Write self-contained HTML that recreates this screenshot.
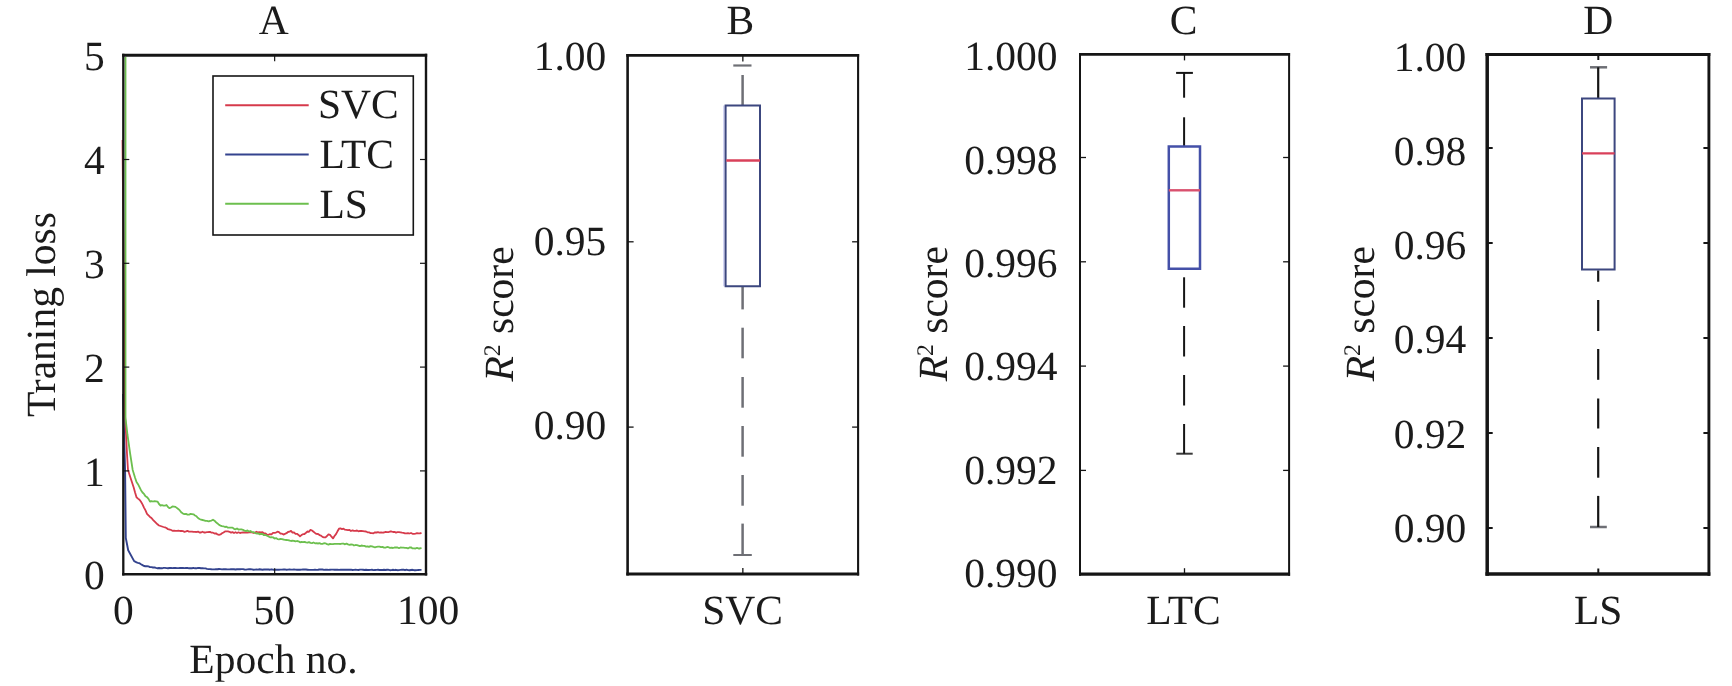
<!DOCTYPE html><html><head><meta charset="utf-8"><style>html,body{margin:0;padding:0;background:#fff;width:1732px;height:686px;overflow:hidden}svg{display:block}text{font-family:"Liberation Serif",serif;fill:#1b1b1b;text-rendering:geometricPrecision}svg{will-change:transform}</style></head><body>
<svg width="1732" height="686" viewBox="0 0 1732 686">
<rect width="1732" height="686" fill="#fff"/>
<polyline points="123.0,394.0 125.1,470.6 125.8,538.0 128.2,550.2 134.3,561.4 135.0,561.5 136.5,562.4 138.0,562.9 139.5,563.2 141.0,564.2 142.5,565.1 144.0,566.0 145.5,566.3 147.0,566.2 148.5,566.4 150.0,567.1 151.5,567.1 153.0,567.5 154.5,567.4 156.0,567.9 157.5,568.2 159.0,568.0 160.5,568.3 162.0,568.3 163.5,567.9 165.0,567.9 166.5,568.1 168.0,568.3 169.5,568.0 171.0,568.0 172.5,568.1 174.0,567.9 175.5,568.0 177.0,568.1 178.5,568.1 180.0,568.0 181.5,568.0 183.0,568.0 184.5,568.1 186.0,568.0 187.5,567.9 189.0,568.3 190.5,568.1 192.0,568.2 193.5,567.9 195.0,568.3 196.5,568.3 198.0,567.9 199.5,568.0 201.0,568.2 202.5,568.2 204.0,568.4 205.5,568.4 207.0,568.9 208.5,569.1 210.0,569.1 211.5,569.3 213.0,569.4 214.5,569.4 216.0,569.2 217.5,569.3 219.0,569.0 220.5,569.1 222.0,569.4 223.5,569.2 225.0,569.1 226.5,569.3 228.0,569.4 229.5,569.4 231.0,569.2 232.5,569.3 234.0,569.3 235.5,569.5 237.0,569.3 238.5,569.3 240.0,569.3 241.5,569.1 243.0,569.1 244.5,569.5 246.0,569.6 247.5,569.4 249.0,569.3 250.5,569.2 252.0,569.4 253.5,569.7 255.0,569.6 256.5,569.5 258.0,569.6 259.5,569.3 261.0,569.5 262.5,569.7 264.0,569.5 265.5,569.5 267.0,569.4 268.5,569.5 270.0,569.7 271.5,569.3 273.0,569.7 274.5,569.7 276.0,569.7 277.5,569.7 279.0,569.7 280.5,569.6 282.0,569.6 283.5,569.5 285.0,569.4 286.5,569.8 288.0,569.6 289.5,569.4 291.0,569.6 292.5,569.6 294.0,569.5 295.5,569.6 297.0,569.7 298.5,569.7 300.0,569.7 301.5,569.6 303.0,569.4 304.5,569.5 306.0,569.5 307.5,569.7 309.0,569.9 310.5,569.9 312.0,569.9 313.5,569.9 315.0,569.6 316.5,569.9 318.0,569.8 319.5,569.5 321.0,569.5 322.5,569.5 324.0,569.9 325.5,569.7 327.0,569.6 328.5,569.9 330.0,569.7 331.5,569.6 333.0,569.6 334.5,569.8 336.0,569.6 337.5,569.7 339.0,569.9 340.5,569.8 342.0,569.7 343.5,569.8 345.0,569.6 346.5,569.8 348.0,569.8 349.5,569.7 351.0,569.6 352.5,570.0 354.0,569.9 355.5,569.7 357.0,569.9 358.5,570.0 360.0,569.6 361.5,569.6 363.0,569.7 364.5,570.0 366.0,569.7 367.5,570.0 369.0,570.0 370.5,569.9 372.0,569.8 373.5,570.1 375.0,570.0 376.5,569.9 378.0,569.8 379.5,570.0 381.0,569.9 382.5,570.0 384.0,569.8 385.5,570.0 387.0,569.7 388.5,569.8 390.0,570.2 391.5,570.1 393.0,569.8 394.5,570.1 396.0,569.8 397.5,570.2 399.0,570.1 400.5,569.9 402.0,569.8 403.5,569.7 405.0,570.2 406.5,569.7 408.0,570.1 409.5,570.2 411.0,570.0 412.5,569.8 414.0,570.2 415.5,570.2 417.0,570.1 418.5,570.0 420.0,569.9 421.5,569.9" fill="none" stroke="#33438e" stroke-width="1.9" stroke-linejoin="round"/>
<polyline points="122.5,140.0 125.0,414.0 127.0,454.0 128.0,470.0 130.5,477.7 133.7,487.5 135.0,492.3 136.5,497.3 138.0,498.6 139.5,499.8 141.0,501.8 142.5,504.4 144.0,507.6 145.5,510.4 147.0,513.9 148.5,515.4 150.0,516.9 151.5,518.0 153.0,519.8 154.5,521.3 156.0,522.8 157.5,524.3 159.0,525.5 160.5,526.0 162.0,526.5 163.5,527.0 165.0,527.4 166.5,528.0 168.0,529.2 169.5,529.5 171.0,529.9 172.5,530.8 174.0,530.6 175.5,530.9 177.0,530.8 178.5,530.6 180.0,531.0 181.5,530.8 183.0,531.2 184.5,531.8 186.0,531.4 187.5,530.8 189.0,531.7 190.5,531.6 192.0,531.6 193.5,531.9 195.0,531.9 196.5,532.0 198.0,531.6 199.5,532.5 201.0,532.5 202.5,531.7 204.0,532.5 205.5,532.5 207.0,532.1 208.5,532.0 210.0,531.8 211.5,532.7 213.0,532.7 214.5,533.5 216.0,533.3 217.5,534.4 219.0,534.8 220.5,534.4 222.0,533.3 223.5,532.4 225.0,531.4 226.5,531.4 228.0,531.4 229.5,531.8 231.0,532.6 232.5,532.1 234.0,533.0 235.5,532.2 237.0,533.0 238.5,532.3 240.0,533.0 241.5,532.7 243.0,532.5 244.5,532.5 246.0,532.7 247.5,532.6 249.0,532.3 250.5,532.1 252.0,532.5 253.5,533.0 255.0,532.5 256.5,531.7 258.0,532.5 259.5,532.2 261.0,532.3 262.5,532.1 264.0,533.4 265.5,533.3 267.0,534.7 268.5,534.8 270.0,534.1 271.5,534.3 273.0,532.8 274.5,532.8 276.0,532.6 277.5,531.7 279.0,532.2 280.5,533.6 282.0,533.7 283.5,534.6 285.0,533.8 286.5,533.2 288.0,532.0 289.5,531.7 291.0,530.9 292.5,532.7 294.0,532.3 295.5,533.9 297.0,533.8 298.5,534.9 300.0,536.3 301.5,535.1 303.0,534.2 304.5,534.0 306.0,532.8 307.5,531.5 309.0,531.8 310.5,529.9 312.0,530.5 313.5,531.7 315.0,532.9 316.5,533.9 318.0,534.0 319.5,535.1 321.0,535.6 322.5,536.9 324.0,537.4 325.5,537.4 327.0,536.0 328.5,534.3 330.0,534.8 331.5,536.7 333.0,538.4 334.5,536.0 336.0,534.1 337.5,531.3 339.0,528.7 340.5,528.3 342.0,529.2 343.5,528.7 345.0,529.7 346.5,529.9 348.0,530.2 349.5,529.9 351.0,531.0 352.5,530.3 354.0,530.9 355.5,530.8 357.0,530.5 358.5,531.3 360.0,530.9 361.5,531.0 363.0,531.1 364.5,531.4 366.0,531.5 367.5,532.3 369.0,532.3 370.5,533.1 372.0,533.2 373.5,533.3 375.0,532.3 376.5,532.5 378.0,532.2 379.5,532.6 381.0,532.5 382.5,532.7 384.0,532.5 385.5,531.9 387.0,532.1 388.5,532.2 390.0,531.5 391.5,531.5 393.0,532.0 394.5,531.8 396.0,532.6 397.5,532.2 399.0,532.2 400.5,532.4 402.0,532.7 403.5,532.8 405.0,533.3 406.5,533.3 408.0,533.1 409.5,533.5 411.0,533.0 412.5,533.8 414.0,533.9 415.5,533.6 417.0,533.2 418.5,533.3 420.0,533.4 421.5,532.8" fill="none" stroke="#d63a4b" stroke-width="1.8" stroke-linejoin="round"/>
<polyline points="125.5,57.0 125.5,418.0 127.5,435.0 130.2,454.0 132.7,470.0 135.0,477.5 136.5,482.0 138.0,484.2 139.5,487.1 141.0,490.2 142.5,492.5 144.0,493.9 145.5,496.3 147.0,497.1 148.5,498.9 150.0,501.6 151.5,501.1 153.0,501.5 154.5,501.1 156.0,501.3 157.5,501.6 159.0,504.0 160.5,505.5 162.0,505.2 163.5,505.6 165.0,505.6 166.5,505.0 168.0,507.1 169.5,508.2 171.0,507.5 172.5,506.4 174.0,506.6 175.5,506.9 177.0,508.1 178.5,509.2 180.0,510.7 181.5,512.6 183.0,513.6 184.5,514.2 186.0,513.9 187.5,514.6 189.0,514.7 190.5,513.9 192.0,514.1 193.5,514.3 195.0,515.4 196.5,516.3 198.0,518.0 199.5,519.0 201.0,519.7 202.5,520.0 204.0,520.3 205.5,520.9 207.0,520.9 208.5,521.3 210.0,521.0 211.5,520.6 213.0,519.7 214.5,520.7 216.0,522.3 217.5,523.4 219.0,524.8 220.5,525.6 222.0,526.1 223.5,526.3 225.0,527.0 226.5,526.7 228.0,527.7 229.5,527.7 231.0,527.6 232.5,527.6 234.0,528.8 235.5,529.3 237.0,528.5 238.5,529.6 240.0,529.4 241.5,529.4 243.0,529.8 244.5,530.7 246.0,531.1 247.5,530.4 249.0,531.4 250.5,531.0 252.0,532.2 253.5,532.1 255.0,533.1 256.5,533.5 258.0,533.3 259.5,534.3 261.0,533.8 262.5,534.0 264.0,535.2 265.5,535.0 267.0,535.8 268.5,536.5 270.0,537.3 271.5,537.2 273.0,537.3 274.5,538.5 276.0,538.1 277.5,539.1 279.0,539.3 280.5,538.9 282.0,539.2 283.5,539.5 285.0,539.9 286.5,540.0 288.0,540.2 289.5,540.5 291.0,541.0 292.5,540.7 294.0,540.8 295.5,541.4 297.0,541.0 298.5,541.3 300.0,542.3 301.5,542.0 303.0,542.2 304.5,541.8 306.0,542.4 307.5,542.7 309.0,542.1 310.5,542.9 312.0,543.1 313.5,542.5 315.0,543.3 316.5,543.2 318.0,543.5 319.5,543.2 321.0,543.8 322.5,543.9 324.0,543.2 325.5,543.3 327.0,544.2 328.5,544.6 330.0,543.9 331.5,544.1 333.0,544.2 334.5,543.9 336.0,543.9 337.5,543.8 339.0,543.8 340.5,544.0 342.0,543.6 343.5,543.7 345.0,544.3 346.5,543.6 348.0,544.4 349.5,544.8 351.0,544.5 352.5,544.6 354.0,545.5 355.5,545.0 357.0,545.1 358.5,545.6 360.0,546.1 361.5,545.5 363.0,545.8 364.5,545.9 366.0,546.6 367.5,546.3 369.0,546.9 370.5,546.1 372.0,546.4 373.5,546.9 375.0,547.3 376.5,546.9 378.0,546.7 379.5,546.7 381.0,547.2 382.5,546.9 384.0,547.6 385.5,547.7 387.0,547.0 388.5,547.2 390.0,547.9 391.5,547.7 393.0,548.0 394.5,547.5 396.0,547.3 397.5,547.5 399.0,548.2 400.5,547.5 402.0,547.6 403.5,547.7 405.0,547.8 406.5,547.8 408.0,548.4 409.5,547.5 411.0,547.3 412.5,548.4 414.0,548.4 415.5,548.5 417.0,547.9 418.5,548.5 420.0,548.5 421.5,547.7" fill="none" stroke="#6cbf4e" stroke-width="1.8" stroke-linejoin="round"/>
<path d="M123.3 53.7V575.6" stroke="#151515" stroke-width="2.3" fill="none"/>
<path d="M426 53.7V575.6" stroke="#151515" stroke-width="2.4" fill="none"/>
<path d="M122.15 55.2H427.2" stroke="#151515" stroke-width="3.0" fill="none"/>
<path d="M122.15 574.3H427.2" stroke="#151515" stroke-width="2.6" fill="none"/>
<line x1="123.3" y1="159.5" x2="129.3" y2="159.5" stroke="#151515" stroke-width="1.2"/>
<line x1="420" y1="159.5" x2="426" y2="159.5" stroke="#151515" stroke-width="1.2"/>
<line x1="123.3" y1="263.3" x2="129.3" y2="263.3" stroke="#151515" stroke-width="1.2"/>
<line x1="420" y1="263.3" x2="426" y2="263.3" stroke="#151515" stroke-width="1.2"/>
<line x1="123.3" y1="367.1" x2="129.3" y2="367.1" stroke="#151515" stroke-width="1.2"/>
<line x1="420" y1="367.1" x2="426" y2="367.1" stroke="#151515" stroke-width="1.2"/>
<line x1="123.3" y1="470.9" x2="129.3" y2="470.9" stroke="#151515" stroke-width="1.2"/>
<line x1="420" y1="470.9" x2="426" y2="470.9" stroke="#151515" stroke-width="1.2"/>
<line x1="274.65" y1="574.3" x2="274.65" y2="568.3" stroke="#151515" stroke-width="1.2"/>
<line x1="274.65" y1="55.2" x2="274.65" y2="61.2" stroke="#151515" stroke-width="1.2"/>
<text x="104.7" y="70.4" text-anchor="end" font-size="41.5" >5</text>
<text x="104.7" y="174.2" text-anchor="end" font-size="41.5" >4</text>
<text x="104.7" y="278" text-anchor="end" font-size="41.5" >3</text>
<text x="104.7" y="381.8" text-anchor="end" font-size="41.5" >2</text>
<text x="104.7" y="485.6" text-anchor="end" font-size="41.5" >1</text>
<text x="104.7" y="589.4" text-anchor="end" font-size="41.5" >0</text>
<text x="123.3" y="624.2" text-anchor="middle" font-size="41.5" >0</text>
<text x="274.3" y="624.2" text-anchor="middle" font-size="41.5" >50</text>
<text x="428.2" y="624.2" text-anchor="middle" font-size="41.5" >100</text>
<text x="273.5" y="673.3" text-anchor="middle" font-size="41.5" >Epoch no.</text>
<text x="273.8" y="33.7" text-anchor="middle" font-size="41.5" >A</text>
<text x="55.2" y="314.6" text-anchor="middle" font-size="41.5" transform="rotate(-90 55.2 314.6)">Traning loss</text>
<rect x="213" y="76" width="200.3" height="159" fill="#fff" stroke="#151515" stroke-width="1.6"/>
<line x1="225.2" y1="105.2" x2="308.7" y2="105.2" stroke="#d63a4b" stroke-width="2"/>
<text x="317.9" y="117.9" text-anchor="start" font-size="41.5" >SVC</text>
<line x1="225.2" y1="154.5" x2="308.7" y2="154.5" stroke="#33438e" stroke-width="2"/>
<text x="319.4" y="167.9" text-anchor="start" font-size="41.5" >LTC</text>
<line x1="225.2" y1="203.8" x2="308.7" y2="203.8" stroke="#6cbf4e" stroke-width="2"/>
<text x="319.4" y="217.9" text-anchor="start" font-size="41.5" >LS</text>
<path d="M627.6 53.95V575.6" stroke="#151515" stroke-width="2.6" fill="none"/>
<path d="M858.1 53.95V575.6" stroke="#151515" stroke-width="2.1" fill="none"/>
<path d="M626.3 55.4H859.15" stroke="#151515" stroke-width="2.9" fill="none"/>
<path d="M626.3 574.1H859.15" stroke="#151515" stroke-width="3.0" fill="none"/>
<line x1="627.6" y1="241.8" x2="633.6" y2="241.8" stroke="#151515" stroke-width="1.3"/>
<line x1="852.1" y1="241.8" x2="858.1" y2="241.8" stroke="#151515" stroke-width="1.3"/>
<line x1="627.6" y1="427.1" x2="633.6" y2="427.1" stroke="#151515" stroke-width="1.3"/>
<line x1="852.1" y1="427.1" x2="858.1" y2="427.1" stroke="#151515" stroke-width="1.3"/>
<line x1="742.85" y1="574.1" x2="742.85" y2="568.1" stroke="#151515" stroke-width="1.3"/>
<line x1="742.85" y1="55.4" x2="742.85" y2="61.4" stroke="#151515" stroke-width="1.3"/>
<text x="606.3" y="70.05" text-anchor="end" font-size="41.5" >1.00</text>
<text x="606.3" y="254.95" text-anchor="end" font-size="41.5" >0.95</text>
<text x="606.3" y="438.7" text-anchor="end" font-size="41.5" >0.90</text>
<text x="742.6" y="624.2" text-anchor="middle" font-size="41.5" >SVC</text>
<text x="740.3" y="33.7" text-anchor="middle" font-size="41.5" >B</text>
<text x="513.4" y="314" text-anchor="middle" font-size="41.5" transform="rotate(-90 513.4 314)"><tspan font-style="italic">R</tspan><tspan font-size="23.8" dy="-13.4">2</tspan><tspan dy="13.4"> score</tspan></text>
<line x1="733.3" y1="65.5" x2="751.5" y2="65.5" stroke="#6e6f75" stroke-width="2.2"/>
<line x1="742.6" y1="75" x2="742.6" y2="105.5" stroke="#6e6f75" stroke-width="2.5"/>
<line x1="733.3" y1="555" x2="751.8" y2="555" stroke="#6e6f75" stroke-width="2"/>
<line x1="742.6" y1="523.6" x2="742.6" y2="555" stroke="#6e6f75" stroke-width="2.5"/>
<line x1="742.6" y1="475" x2="742.6" y2="505.7" stroke="#6e6f75" stroke-width="2.5"/>
<line x1="742.6" y1="426" x2="742.6" y2="456.7" stroke="#6e6f75" stroke-width="2.5"/>
<line x1="742.6" y1="377" x2="742.6" y2="407.7" stroke="#6e6f75" stroke-width="2.5"/>
<line x1="742.6" y1="327.7" x2="742.6" y2="358.3" stroke="#6e6f75" stroke-width="2.5"/>
<line x1="742.6" y1="286" x2="742.6" y2="309.4" stroke="#6e6f75" stroke-width="2.5"/>
<line x1="723.9" y1="105.5" x2="723.9" y2="286.2" stroke="#c9cbf2" stroke-width="1.4"/>
<path d="M725.6 105.5H760V286.2H725.6Z" fill="none" stroke="#3c477f" stroke-width="2"/>
<line x1="726.3" y1="160.5" x2="760" y2="160.5" stroke="#d9405a" stroke-width="2.5"/>
<path d="M1080 53V575.8" stroke="#151515" stroke-width="2.0" fill="none"/>
<path d="M1289.1 53V575.8" stroke="#151515" stroke-width="2.0" fill="none"/>
<path d="M1079 54.4H1290.1" stroke="#151515" stroke-width="2.8" fill="none"/>
<path d="M1079 574.2H1290.1" stroke="#151515" stroke-width="3.2" fill="none"/>
<line x1="1080" y1="157.5" x2="1086" y2="157.5" stroke="#151515" stroke-width="1.3"/>
<line x1="1283.1" y1="157.5" x2="1289.1" y2="157.5" stroke="#151515" stroke-width="1.3"/>
<line x1="1080" y1="261.8" x2="1086" y2="261.8" stroke="#151515" stroke-width="1.3"/>
<line x1="1283.1" y1="261.8" x2="1289.1" y2="261.8" stroke="#151515" stroke-width="1.3"/>
<line x1="1080" y1="366.1" x2="1086" y2="366.1" stroke="#151515" stroke-width="1.3"/>
<line x1="1283.1" y1="366.1" x2="1289.1" y2="366.1" stroke="#151515" stroke-width="1.3"/>
<line x1="1080" y1="470.4" x2="1086" y2="470.4" stroke="#151515" stroke-width="1.3"/>
<line x1="1283.1" y1="470.4" x2="1289.1" y2="470.4" stroke="#151515" stroke-width="1.3"/>
<line x1="1184.5" y1="574.2" x2="1184.5" y2="568.2" stroke="#151515" stroke-width="1.3"/>
<line x1="1184.5" y1="54.4" x2="1184.5" y2="60.4" stroke="#151515" stroke-width="1.3"/>
<text x="1057.6" y="70.4" text-anchor="end" font-size="41.5" >1.000</text>
<text x="1057.6" y="173.95" text-anchor="end" font-size="41.5" >0.998</text>
<text x="1057.6" y="277.25" text-anchor="end" font-size="41.5" >0.996</text>
<text x="1057.6" y="380.1" text-anchor="end" font-size="41.5" >0.994</text>
<text x="1057.6" y="484.25" text-anchor="end" font-size="41.5" >0.992</text>
<text x="1057.6" y="587.05" text-anchor="end" font-size="41.5" >0.990</text>
<text x="1183.5" y="624.2" text-anchor="middle" font-size="41.5" >LTC</text>
<text x="1183.6" y="33.7" text-anchor="middle" font-size="41.5" >C</text>
<text x="946.6" y="313.75" text-anchor="middle" font-size="41.5" transform="rotate(-90 946.6 313.75)"><tspan font-style="italic">R</tspan><tspan font-size="23.8" dy="-13.4">2</tspan><tspan dy="13.4"> score</tspan></text>
<line x1="1176.1" y1="72.9" x2="1192.9" y2="72.9" stroke="#151515" stroke-width="2"/>
<line x1="1184.1" y1="72.9" x2="1184.1" y2="97.7" stroke="#151515" stroke-width="2"/>
<line x1="1184.1" y1="117.3" x2="1184.1" y2="146.4" stroke="#151515" stroke-width="2"/>
<line x1="1176.3" y1="453.7" x2="1192.7" y2="453.7" stroke="#3a3a3a" stroke-width="2"/>
<line x1="1184.1" y1="424" x2="1184.1" y2="453.7" stroke="#151515" stroke-width="2"/>
<line x1="1184.1" y1="375" x2="1184.1" y2="405.5" stroke="#151515" stroke-width="2"/>
<line x1="1184.1" y1="326" x2="1184.1" y2="356.5" stroke="#151515" stroke-width="2"/>
<line x1="1184.1" y1="277.3" x2="1184.1" y2="307.7" stroke="#151515" stroke-width="2"/>
<path d="M1168.8 146.4H1200V268.7H1168.8Z" fill="none" stroke="#4450a8" stroke-width="2.5"/>
<line x1="1168.8" y1="190.3" x2="1200" y2="190.3" stroke="#d9506e" stroke-width="2.4"/>
<path d="M1487.2 53.1V575.65" stroke="#151515" stroke-width="3.5" fill="none"/>
<path d="M1708.9 53.1V575.65" stroke="#151515" stroke-width="2.9" fill="none"/>
<path d="M1485.45 54.5H1710.35" stroke="#151515" stroke-width="2.8" fill="none"/>
<path d="M1485.45 574H1710.35" stroke="#151515" stroke-width="3.3" fill="none"/>
<line x1="1487.2" y1="148" x2="1492.7" y2="148" stroke="#151515" stroke-width="2"/>
<line x1="1703.4" y1="148" x2="1708.9" y2="148" stroke="#151515" stroke-width="2"/>
<line x1="1487.2" y1="243" x2="1492.7" y2="243" stroke="#151515" stroke-width="2"/>
<line x1="1703.4" y1="243" x2="1708.9" y2="243" stroke="#151515" stroke-width="2"/>
<line x1="1487.2" y1="338" x2="1492.7" y2="338" stroke="#151515" stroke-width="2"/>
<line x1="1703.4" y1="338" x2="1708.9" y2="338" stroke="#151515" stroke-width="2"/>
<line x1="1487.2" y1="433" x2="1492.7" y2="433" stroke="#151515" stroke-width="2"/>
<line x1="1703.4" y1="433" x2="1708.9" y2="433" stroke="#151515" stroke-width="2"/>
<line x1="1487.2" y1="528" x2="1492.7" y2="528" stroke="#151515" stroke-width="2"/>
<line x1="1703.4" y1="528" x2="1708.9" y2="528" stroke="#151515" stroke-width="2"/>
<line x1="1598.3" y1="574" x2="1598.3" y2="568.5" stroke="#151515" stroke-width="2"/>
<line x1="1598.3" y1="54.5" x2="1598.3" y2="60" stroke="#151515" stroke-width="2"/>
<text x="1466.3" y="70.7" text-anchor="end" font-size="41.5" >1.00</text>
<text x="1466.3" y="165.1" text-anchor="end" font-size="41.5" >0.98</text>
<text x="1466.3" y="258.9" text-anchor="end" font-size="41.5" >0.96</text>
<text x="1466.3" y="353.35" text-anchor="end" font-size="41.5" >0.94</text>
<text x="1466.3" y="448.3" text-anchor="end" font-size="41.5" >0.92</text>
<text x="1466.3" y="542.25" text-anchor="end" font-size="41.5" >0.90</text>
<text x="1598.1" y="624.4" text-anchor="middle" font-size="41.5" >LS</text>
<text x="1598.3" y="33.7" text-anchor="middle" font-size="41.5" >D</text>
<text x="1373.8" y="313.75" text-anchor="middle" font-size="41.5" transform="rotate(-90 1373.8 313.75)"><tspan font-style="italic">R</tspan><tspan font-size="23.8" dy="-13.4">2</tspan><tspan dy="13.4"> score</tspan></text>
<line x1="1590" y1="67.3" x2="1607.1" y2="67.3" stroke="#6e6f75" stroke-width="2.5"/>
<line x1="1598.2" y1="67.3" x2="1598.2" y2="98.6" stroke="#151515" stroke-width="2.2"/>
<line x1="1590" y1="527" x2="1606.8" y2="527" stroke="#6e6f75" stroke-width="2.5"/>
<line x1="1598.2" y1="495.9" x2="1598.2" y2="527" stroke="#151515" stroke-width="2.2"/>
<line x1="1598.2" y1="447" x2="1598.2" y2="477.7" stroke="#151515" stroke-width="2.2"/>
<line x1="1598.2" y1="398.5" x2="1598.2" y2="428.5" stroke="#151515" stroke-width="2.2"/>
<line x1="1598.2" y1="349" x2="1598.2" y2="379.8" stroke="#151515" stroke-width="2.2"/>
<line x1="1598.2" y1="300" x2="1598.2" y2="331" stroke="#151515" stroke-width="2.2"/>
<line x1="1598.2" y1="270.4" x2="1598.2" y2="281.7" stroke="#151515" stroke-width="2.2"/>
<path d="M1582 98.6H1614.6V269.5H1582Z" fill="none" stroke="#3c477f" stroke-width="2"/>
<line x1="1582" y1="153.3" x2="1614.6" y2="153.3" stroke="#d9405a" stroke-width="2.2"/>
</svg></body></html>
